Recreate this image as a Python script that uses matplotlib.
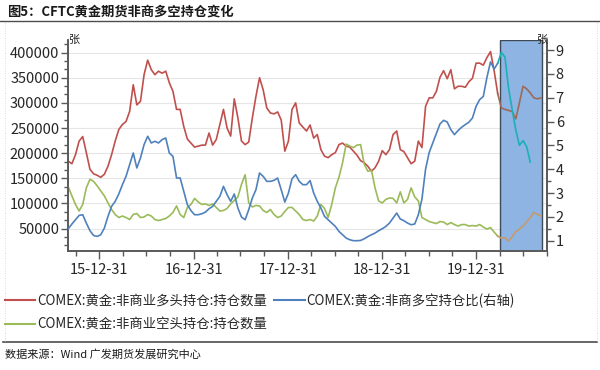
"""CFTC gold futures non-commercial long/short positions (recreated chart)."""

import matplotlib

matplotlib.use("Agg")
import matplotlib.pyplot as plt
import matplotlib.dates as mdates
from matplotlib.lines import Line2D
from matplotlib.ticker import AutoMinorLocator, MultipleLocator, FuncFormatter
import numpy as np
import pandas as pd

plt.rcParams["font.family"] = ["Noto Sans CJK SC", "DejaVu Sans"]
plt.rcParams["axes.unicode_minus"] = False

# ---- data (bi-weekly) ----
dates = pd.date_range("2015-09-01", periods=132, freq="14D")

# non-commercial long, thousand contracts
long_k = [
    184, 179, 197, 224, 233, 201, 168, 159, 156, 152, 158, 174, 197, 224, 247, 257,
    263, 283, 336, 296, 303, 356, 385, 366, 356, 363, 359, 363, 340, 323, 287, 287,
    253, 228, 220, 212, 214, 216, 216, 240, 216, 227, 257, 287, 250, 234, 308, 270,
    224, 217, 222, 270, 313, 350, 326, 290, 280, 278, 282, 266, 204, 224, 287, 300,
    260, 252, 244, 256, 230, 237, 207, 194, 191, 197, 201, 217, 220, 214, 212, 204,
    196, 185, 181, 174, 164, 171, 184, 205, 197, 207, 237, 244, 207, 203, 191, 179,
    184, 224, 211, 293, 310, 310, 323, 351, 364, 348, 366, 328, 333, 333, 331, 342,
    349, 379, 379, 375, 390, 402, 364, 318, 290, 287, 285, 283, 268, 300, 333, 328,
    320, 310, 308, 310,
]

# non-commercial short, thousand contracts
short_k = [
    133, 115, 98, 85, 98, 131, 148, 144, 135, 125, 115, 101, 88, 78, 72, 75,
    72, 68, 78, 80, 72, 73, 78, 75, 68, 66, 68, 70, 75, 82, 95, 78,
    72, 92, 98, 110, 103, 98, 99, 96, 99, 92, 85, 86, 90, 99, 106, 113,
    138, 157, 101, 93, 96, 95, 86, 82, 88, 78, 72, 75, 84, 92, 92, 85,
    78, 68, 66, 68, 65, 75, 98, 90, 72, 98, 131, 152, 181, 218, 214, 211,
    216, 217, 178, 164, 166, 131, 105, 101, 108, 111, 110, 101, 123, 101, 108, 131,
    113, 105, 72, 68, 64, 62, 60, 64, 63, 58, 62, 58, 55, 58, 58, 55,
    56, 55, 58, 53, 49, 52, 43, 35, 31, 32, 25, 34, 44, 49, 55, 63,
    72, 82, 78, 75,
]

# long/short ratio (right axis), series ends a little earlier
ratio = [
    1.50, 1.70, 1.88, 2.06, 2.09, 1.74, 1.42, 1.22, 1.18, 1.25, 1.53, 2.02, 2.44, 2.65, 2.96, 3.35,
    3.70, 4.19, 4.68, 4.05, 4.47, 5.03, 5.38, 5.10, 5.17, 5.10, 5.24, 5.31, 4.68, 4.54, 3.63, 3.63,
    3.07, 2.51, 2.26, 2.09, 2.09, 2.13, 2.20, 2.34, 2.44, 2.65, 2.86, 3.28, 2.93, 2.65, 2.96, 2.37,
    1.99, 1.88, 2.30, 2.79, 3.14, 3.84, 3.70, 3.49, 3.49, 3.53, 3.63, 3.14, 2.62, 3.00, 3.60, 3.77,
    3.49, 3.35, 3.35, 3.52, 3.00, 2.65, 2.37, 2.02, 1.88, 1.74, 1.60, 1.39, 1.25, 1.11, 1.04, 1.00,
    1.00, 1.01, 1.08, 1.17, 1.25, 1.32, 1.42, 1.50, 1.60, 1.74, 1.95, 2.16, 1.91, 1.84, 1.74, 1.67,
    1.70, 2.09, 2.75, 4.00, 4.70, 5.10, 5.50, 5.90, 6.05, 5.98, 5.66, 5.45, 5.62, 5.76, 5.87, 5.97,
    6.15, 6.64, 6.92, 7.05, 7.85, 8.50, 8.20, 8.45, 8.90, 8.70, 7.40, 6.50, 5.65, 5.00, 5.20, 4.95,
    4.30,
]

year_ticks = pd.to_datetime(["2015-12-31", "2016-12-31", "2017-12-31", "2018-12-31", "2019-12-31"])
highlight_start = pd.Timestamp("2020-03-31")

labels = [
    "COMEX:黄金:非商业多头持仓:持仓数量",
    "COMEX:黄金:非商多空持仓比(右轴)",
    "COMEX:黄金:非商业空头持仓:持仓数量",
]

# ---- styles ----
RED, BLUE, GREEN = "#C0504D", "#4F81BD", "#9BBB59"
RED_IN, BLUE_IN, GREEN_IN = "#9C6A58", "#1CB0B8", "#C39B6E"
AXIS_COLOR = "#595959"
TEXT_COLOR = "#262626"

long_v = np.array(long_k) * 1000
short_v = np.array(short_k) * 1000
ratio_v = np.array(ratio)
d_ratio = dates[: len(ratio_v)]


def split_at(x, y, cut):
    """Return (before, after) parts; the after part starts at the last point before cut."""
    idx = int(np.searchsorted(x.values, np.datetime64(cut)))
    k = max(idx - 1, 0)
    return (x[:idx], y[:idx]), (x[k:], y[k:])


fig = plt.figure(figsize=(6.0, 3.7), dpi=100)
ax = fig.add_axes([0.1138, 0.3224, 0.7974, 0.5708])
ax2 = ax.twinx()

# highlight box (behind the lines)
ax.axvspan(highlight_start, dates[-1] + pd.Timedelta(days=2), facecolor="#8DB4E2",
           edgecolor="#3F4A57", linewidth=1.0, zorder=1)

for series, c_out, c_in in [(long_v, RED, RED_IN), (short_v, GREEN, GREEN_IN)]:
    (x0, y0), (x1, y1) = split_at(dates, series, highlight_start)
    ax.plot(x0, y0, color=c_out, lw=1.2, zorder=3)
    ax.plot(x1, y1, color=c_in, lw=1.2, zorder=3)

(x0, y0), (x1, y1) = split_at(d_ratio, ratio_v, highlight_start)
ax2.plot(x0, y0, color=BLUE, lw=1.2, zorder=3)
ax2.plot(x1, y1, color=BLUE_IN, lw=1.2, zorder=3)

# left axis
ax.set_xlim(dates[0], dates[-1] + pd.Timedelta(days=1))
ax.set_ylim(6000, 426000)
ax.yaxis.set_major_locator(MultipleLocator(50000))
ax.yaxis.set_minor_locator(AutoMinorLocator(3))
ax.yaxis.set_major_formatter(FuncFormatter(lambda v, p: f"{int(v)}" if v >= 50000 else ""))
ax.grid(axis="y", color="#E6E6E6", lw=0.8, zorder=0)
ax.set_axisbelow(True)

# right axis
ax2.set_ylim(0.58, 9.44)
ax2.yaxis.set_major_locator(MultipleLocator(1))
ax2.yaxis.set_minor_locator(MultipleLocator(0.5))

# date axis: year-end labels, quarterly minor ticks
ax.set_xticks(year_ticks)
ax.xaxis.set_major_formatter(mdates.DateFormatter("%y-%m-%d"))
quarter_ends = pd.date_range("2015-09-30", "2020-09-30", freq="QE")
ax.set_xticks(quarter_ends, minor=True)

for a in (ax, ax2):
    a.spines["top"].set_visible(False)
    for side in ("left", "right", "bottom"):
        a.spines[side].set_color(AXIS_COLOR)
        a.spines[side].set_linewidth(1.2)
    a.tick_params(which="major", length=5, width=1.0, color=AXIS_COLOR,
                  labelsize=10.5, labelcolor=TEXT_COLOR, pad=1.5)
    a.tick_params(which="minor", length=3, width=1.0, color=AXIS_COLOR)
ax.tick_params(axis="x", which="major", length=6, pad=3)
ax.tick_params(axis="x", which="minor", length=3.5)

ax.text(0.0, 1.0, "张", transform=ax.transAxes, fontsize=8, ha="left", va="center",
        color=TEXT_COLOR)
ax2.text(1.0, 1.0, "张", transform=ax2.transAxes, fontsize=8, ha="right", va="center",
         color=TEXT_COLOR, zorder=5)

# legend (order gives row 1: long, ratio; row 2: short)
handles = [
    Line2D([], [], color=RED, lw=1.5),
    Line2D([], [], color=GREEN, lw=1.5),
    Line2D([], [], color=BLUE, lw=1.5),
]
fig.legend(handles, [labels[0], labels[2], labels[1]], ncol=2, frameon=False,
           loc="upper left", bbox_to_anchor=(0.008, 0.207), fontsize=9.6,
           handlelength=2.3, handletextpad=0.15, columnspacing=0.5,
           labelspacing=0.7, borderaxespad=0, borderpad=0, labelcolor=TEXT_COLOR)

# title, separators, faint frame and source note
fig.text(0.012, 0.968, "图5：CFTC黄金期货非商多空持仓变化", fontsize=9.5, fontweight="bold",
         ha="left", va="center", color="#1a1a1a")
fig.add_artist(Line2D([0.0, 1.0], [0.943, 0.943], color="#4d4d4d", lw=1.0))
fig.add_artist(Line2D([0.005, 0.995], [0.076, 0.076], color="#4d4d4d", lw=1.2))
for xf in (0.009, 0.995):
    fig.add_artist(Line2D([xf, xf], [0.078, 0.94], color="#d0d0d0", lw=0.6, ls=(0, (1, 2))))
fig.text(0.008, 0.043, "数据来源：Wind 广发期货发展研究中心", fontsize=8,
         ha="left", va="center", color="#1a1a1a")

fig.savefig("out.png", dpi=100)
